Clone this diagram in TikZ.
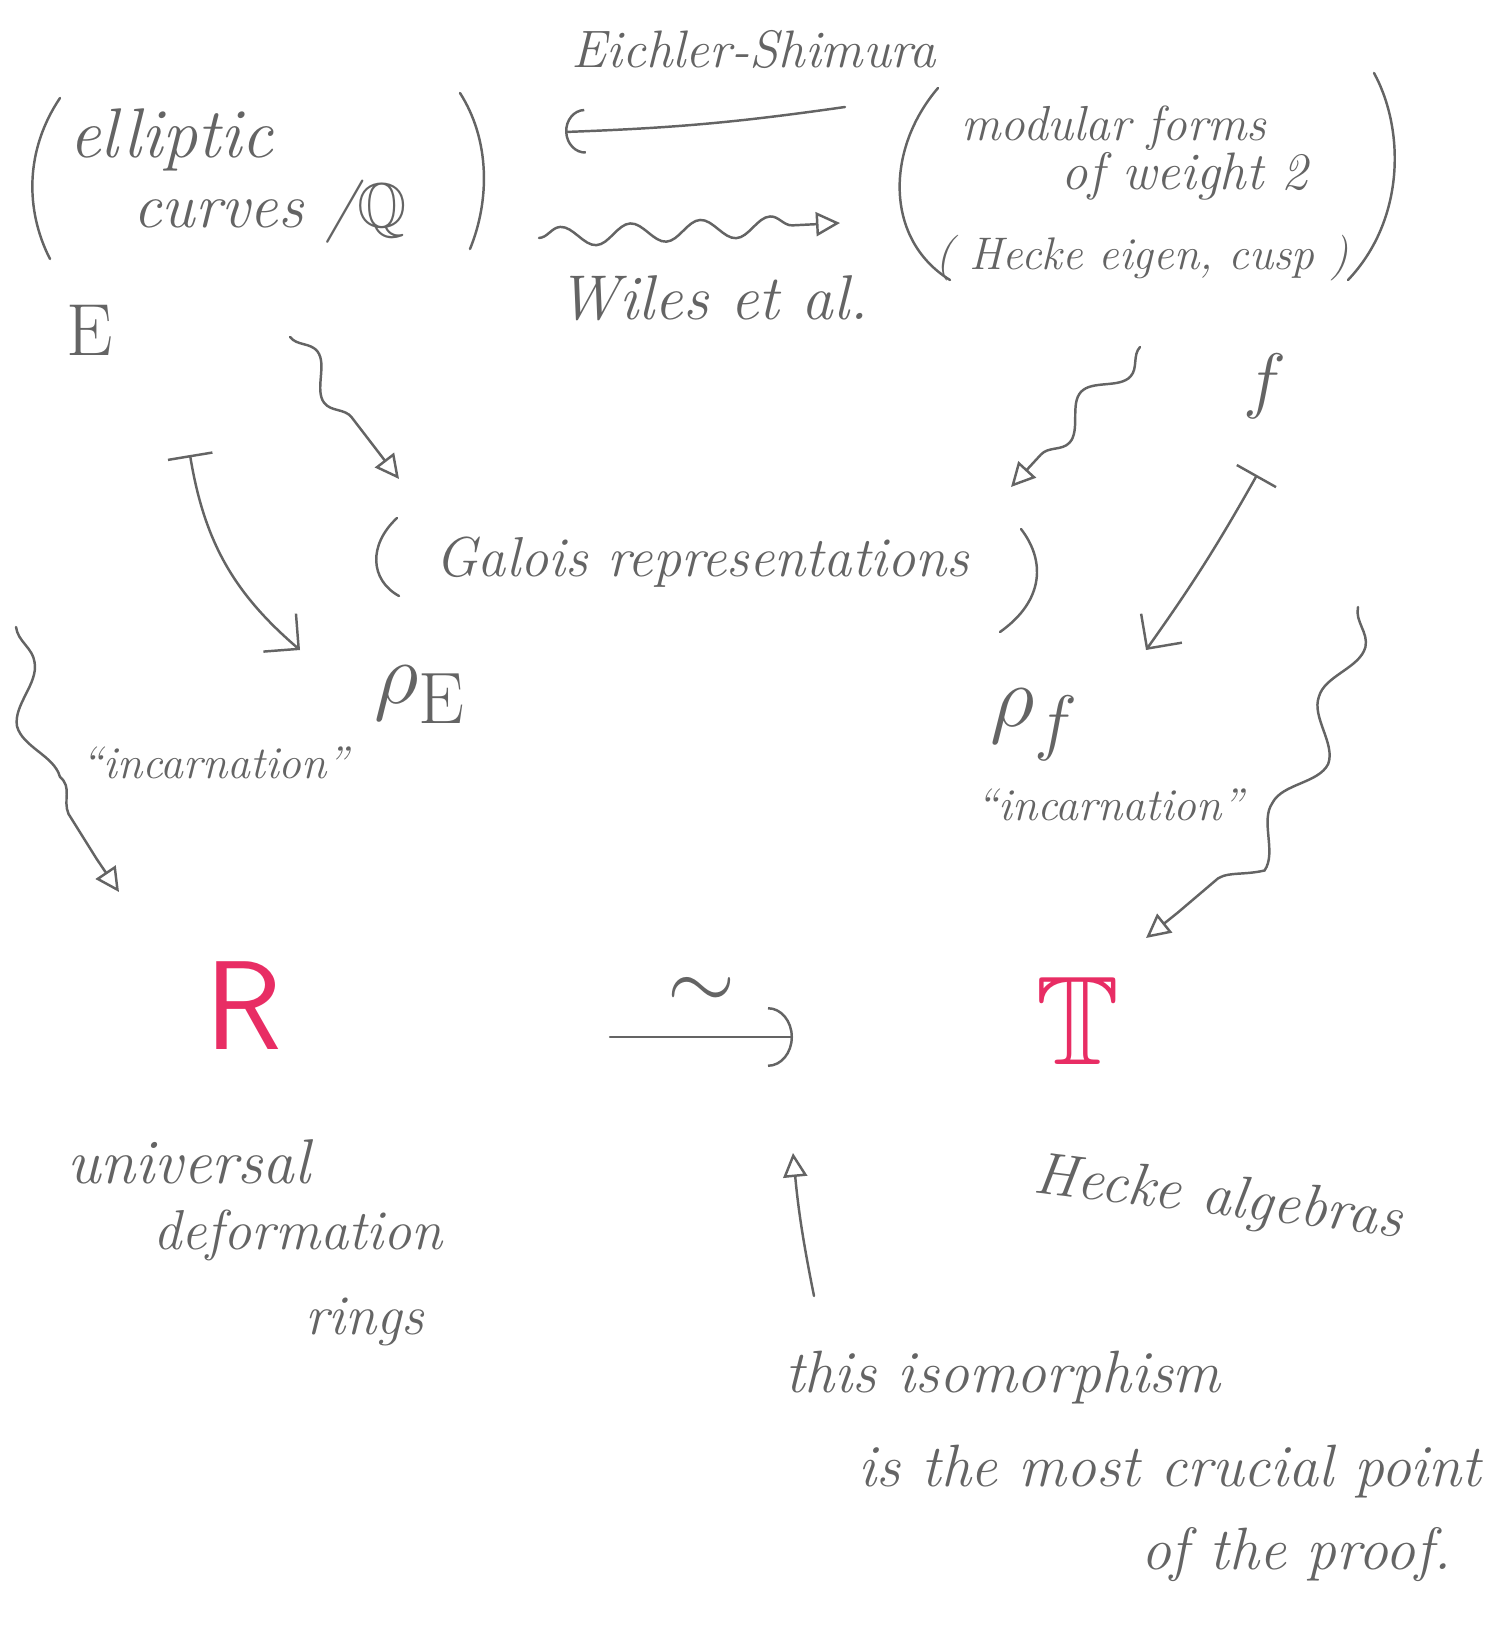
\documentclass[tikz,border=0pt]{standalone}
\usepackage{amssymb}
\usepackage{amsmath}
\usetikzlibrary{calc, positioning}
\usetikzlibrary{arrows.meta}
\usetikzlibrary{decorations.pathmorphing}

\definecolor{pencil}{RGB}{100,100,100}
\definecolor{redpen}{RGB}{232,45,100}
\newcommand{\pen}[1]{\fontsize{#1}{#1}\selectfont\itshape}

\begin{document}
\begin{tikzpicture}[
  hand/.style={text=pencil, inner sep=1pt},
  stroke/.style={draw=pencil, line width=0.7pt, line cap=round},
  squiggle/.style={stroke, decorate,
    decoration={snake, amplitude=1.3mm, segment length=9mm, post length=4mm}},
  wavytip/.style={-{Triangle[open, length=2.4mm, width=2.4mm]}},
  mapsto/.style={stroke, {Bar[width=4.5mm]}-{Straight Barb[length=2.5mm, width=5mm]}}
]
\useasboundingbox (0,0) rectangle (14.95,-16.26);

% top row
\node[hand, font=\pen{15}] (es) at (7.54,-0.50) {Eichler-Shimura};
\node[hand, font=\pen{20}] (ell) at (1.71,-1.40) {elliptic};
\node[hand, font=\pen{18}] (curves) at (2.70,-2.12) {curves /$\mathbb{Q}$};
\node[hand, font=\pen{14}] (mod) at (11.14,-1.28) {modular forms};
\node[hand, font=\pen{15}] (weight) at (11.85,-1.76) {of weight 2};
\node[hand, font=\pen{13}] (cusp) at (11.42,-2.58) {( Hecke eigen, cusp )};
\node[hand, font=\pen{18}] (wiles) at (7.13,-2.98) {Wiles et al.};

\draw[stroke] (0.60,-0.98) .. controls (0.25,-1.5) and (0.25,-2.1) .. (0.50,-2.59);
\draw[stroke] (4.60,-0.93) .. controls (4.90,-1.4) and (4.90,-2.0) .. (4.70,-2.49);
\draw[stroke] (9.38,-0.88) .. controls (8.85,-1.5) and (8.85,-2.4) .. (9.50,-2.80);
\draw[stroke] (13.74,-0.73) .. controls (14.05,-1.3) and (14.05,-2.2) .. (13.48,-2.80);

\coordinate (es-from) at (8.45,-1.07);
\coordinate (es-to) at (5.65,-1.32);
\draw[stroke, -{Arc Barb[length=2mm, width=4.5mm]}] (es-from) to[bend left=3] (es-to);
\coordinate (wi-from) at (5.39,-2.38);
\coordinate (wi-to) at (8.40,-2.23);
\draw[squiggle, wavytip, decoration={amplitude=1mm, segment length=7mm}] (wi-from) -- (wi-to);

% middle
\node[hand, font=\pen{21}\upshape] (E) at (0.90,-3.30) {E};
\node[hand, font=\pen{22}] (f) at (12.65,-3.86) {$f$};
\node[hand, font=\pen{16}] (gal) at (7.02,-5.62) {Galois representations};
\draw[stroke] (3.97,-5.18) .. controls (3.68,-5.45) and (3.70,-5.80) .. (3.99,-5.96);
\draw[stroke] (10.21,-5.29) .. controls (10.45,-5.6) and (10.45,-6.0) .. (10.00,-6.32);
\node[hand, font=\pen{28}] (rhoE) at (4.20,-6.95) {$\rho_{\mathrm{E}}$};
\node[hand, font=\pen{28}] (rhof) at (10.35,-7.25) {$\rho_f$};
\node[hand, font=\pen{13}] (incL) at (2.15,-7.63) {``incarnation''};
\node[hand, font=\pen{13}] (incR) at (11.10,-8.05) {``incarnation''};

\coordinate (eg-from) at (2.90,-3.37);
\coordinate (eg-to) at (3.99,-4.79);
\draw[squiggle, wavytip] (eg-from) -- (eg-to);
\coordinate (fg-from) at (11.40,-3.47);
\coordinate (fg-to) at (10.11,-4.87);
\draw[squiggle, wavytip] (fg-from) -- (fg-to);

\coordinate (eo-from) at (1.90,-4.55);
\coordinate (eo-to) at (3.00,-6.50);
\draw[mapsto] (eo-from) to[bend right=20] (eo-to);
\coordinate (fo-from) at (12.57,-4.75);
\coordinate (fo-to) at (11.46,-6.50);
\draw[mapsto] (fo-from) to[bend left=3] (fo-to);

\coordinate (il-from) at (0.16,-6.27);
\coordinate (il-to) at (1.19,-8.92);
\draw[squiggle, wavytip, decoration={amplitude=1.4mm, segment length=12mm}] (il-from) to[bend right=14] (il-to);
\coordinate (ir-from) at (13.58,-6.07);
\coordinate (ir-to) at (11.46,-9.38);
\draw[squiggle, wavytip, decoration={amplitude=1.6mm, segment length=12mm}] (ir-from) to[bend left=20] (ir-to);

% bottom
\node[text=redpen, font=\fontsize{36}{36}\selectfont\sffamily] (R) at (2.44,-10.06) {R};
\node[text=redpen, font=\fontsize{36}{36}\selectfont] (T) at (10.78,-10.21) {$\mathbb{T}$};
\coordinate (iso-from) at (6.10,-10.37);
\coordinate (iso-to) at (7.93,-10.37);
\draw[stroke, -{Arc Barb[length=2.5mm, width=6mm]}] (iso-from) -- (iso-to)
  node[midway, above=1.5mm, text=pencil, font=\fontsize{30}{30}\selectfont] (sim) {$\sim$};

\node[hand, font=\pen{18}] (univ) at (1.89,-11.62) {universal};
\node[hand, font=\pen{16}] (deform) at (2.98,-12.35) {deformation};
\node[hand, font=\pen{16}] (rings) at (3.65,-13.22) {rings};
\node[hand, font=\pen{17}, rotate=-7] (hecke) at (12.18,-12.00) {Hecke algebras};

\node[hand, font=\pen{17}] (this) at (10.03,-13.78) {this isomorphism};
\node[hand, font=\pen{17}] (crucial) at (11.70,-14.72) {is the most crucial point};
\node[hand, font=\pen{17}] (proof) at (12.96,-15.55) {of the proof.};
\coordinate (up-from) at (8.14,-12.96);
\coordinate (up-to) at (7.93,-11.53);
\draw[stroke, wavytip] (up-from) to[bend left=3] (up-to);
\end{tikzpicture}
\end{document}
